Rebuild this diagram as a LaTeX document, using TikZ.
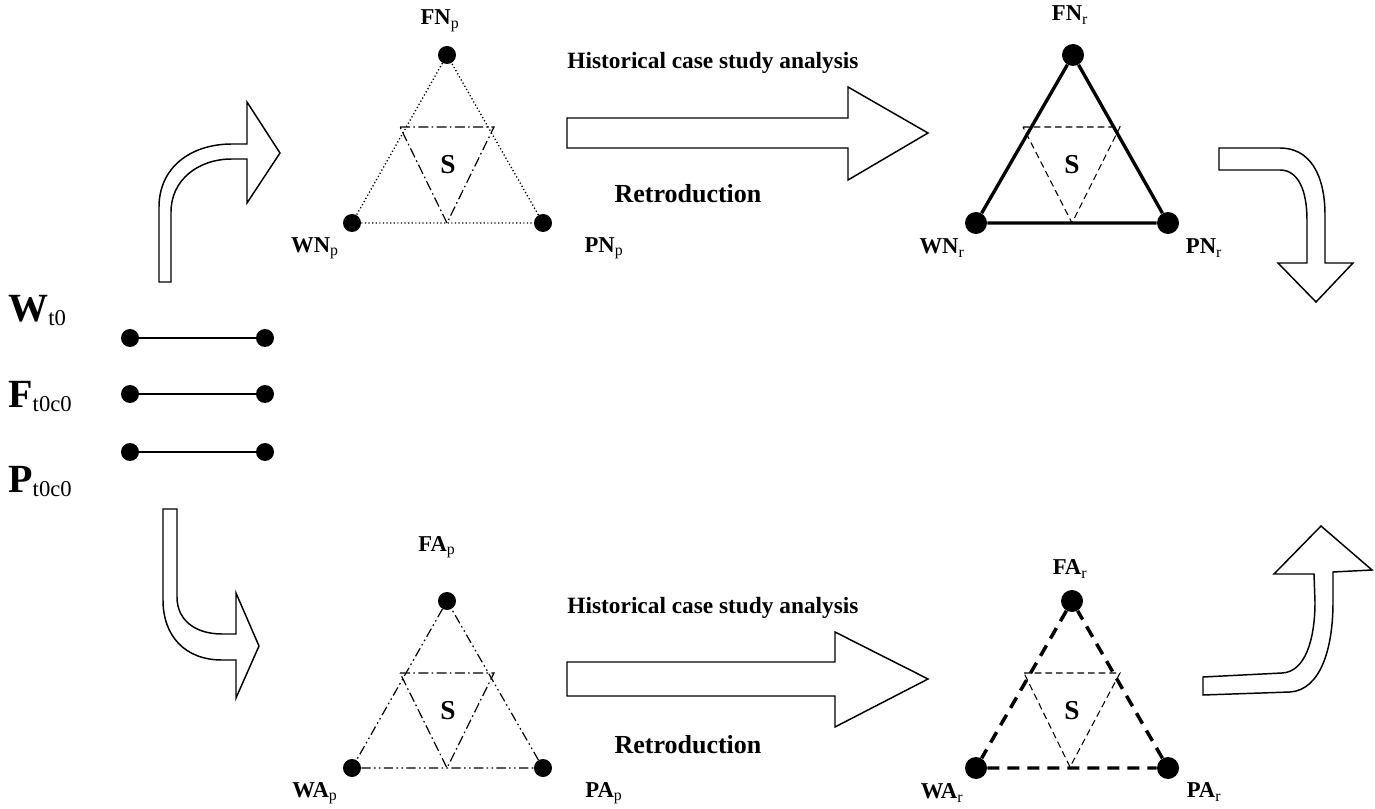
\documentclass[tikz,border=0pt]{standalone}
\usepackage{fontspec}
\setmainfont{Liberation Serif}
\newcommand\vtx[2]{\textbf{#1}\textsubscript{\mdseries #2}}
\newcommand\bigvar[2]{{\fontsize{30}{32}\selectfont\bfseries #1}\raisebox{-3pt}{\fontsize{17}{18}\selectfont #2}}
\begin{document}
\begin{tikzpicture}[x=0.75pt,y=-0.75pt,
  dotsm/.style={circle,fill=black,inner sep=0pt,minimum size=13.5pt},
  dotlg/.style={circle,fill=black,inner sep=0pt,minimum size=16.5pt},
  vlab/.style={font=\fontsize{17}{19}\selectfont, inner sep=0pt},
  slab/.style={font=\fontsize{20.5}{22}\selectfont\bfseries, inner sep=0pt},
  histlab/.style={font=\fontsize{17.5}{20}\selectfont\bfseries, inner sep=0pt},
  retrolab/.style={font=\fontsize{19.5}{22}\selectfont\bfseries, inner sep=0pt},
  bigarrow/.style={draw,line width=1.1pt,fill=white,line join=miter},
  dotline/.style={line width=1pt,dash pattern=on 0.9pt off 1.8pt},
  dashdotline/.style={line width=0.9pt,dash pattern=on 7.5pt off 2.5pt on 1.2pt off 2.5pt},
  dashdotdotline/.style={line width=0.9pt,dash pattern=on 7pt off 2.5pt on 1.2pt off 2.5pt on 1.2pt off 2.5pt},
  thinline/.style={line width=0.8pt,dash pattern=on 5pt off 3pt},
  boldline/.style={line width=2.5pt},
  bolddash/.style={line width=2.6pt,dash pattern=on 9pt off 6pt},
  bar/.style={line width=0.9pt}]
\useasboundingbox (0,0) rectangle (1375,809);

% ---------- initial state: three bars ----------
\node[anchor=base west,inner sep=0pt] (lw) at (8,322) {\bigvar{W}{t0}};
\node[anchor=base west,inner sep=0pt] (lf) at (8,407) {\bigvar{F}{t0c0}};
\node[anchor=base west,inner sep=0pt] (lp) at (8,492) {\bigvar{P}{t0c0}};
\node[dotsm] (w1) at (130,338) {};
\node[dotsm] (w2) at (265,338) {};
\node[dotsm] (f1) at (130,394) {};
\node[dotsm] (f2) at (265,394) {};
\node[dotsm] (p1) at (130,452) {};
\node[dotsm] (p2) at (265,452) {};
\draw[bar] (w1) -- (w2);
\draw[bar] (f1) -- (f2);
\draw[bar] (p1) -- (p2);

% ---------- bent arrows ----------
\draw[bigarrow] (159,282) -- (159,207) .. controls (159,168) and (190,144) .. (232,144)
  -- (247,144) -- (247,102) -- (280,153) -- (247,203) -- (247,159) -- (232,159)
  .. controls (198,159) and (171,180) .. (171,212) -- (171,282) -- cycle;
\draw[bigarrow] (163,509) -- (177,509) -- (177,597) .. controls (177,620) and (195,634) .. (222,634)
  -- (236,634) -- (236,593) -- (259,646) -- (236,698) -- (236,660) -- (222,660)
  .. controls (185,660) and (163,636) .. (163,600) -- cycle;
\draw[bigarrow] (1219,148) -- (1280,148) .. controls (1310,148) and (1325,175) .. (1325,215)
  -- (1325,263) -- (1353,263) -- (1316,302) -- (1278,263) -- (1307,263) -- (1307,220)
  .. controls (1307,190) and (1298,170) .. (1280,170) -- (1219,170) -- cycle;
\draw[bigarrow] (1203,677) -- (1282,673) .. controls (1305,672) and (1315,640) .. (1315,602)
  -- (1314,574) -- (1274,574) -- (1321,526) -- (1372,570) -- (1333,572) -- (1333,602)
  .. controls (1333,650) and (1320,690) .. (1290,692) -- (1203,695) -- cycle;

% ---------- straight arrows ----------
\draw[bigarrow] (567,118) -- (848,118) -- (848,87) -- (928,133) -- (848,180) -- (848,148) -- (567,148) -- cycle;
\draw[bigarrow] (567,662) -- (835,662) -- (835,632) -- (928,679) -- (835,727) -- (835,696) -- (567,696) -- cycle;
\node[histlab] (h1) at (713,63) {Historical case study analysis};
\node[retrolab] (r1) at (688,194) {Retroduction};
\node[histlab] (h2) at (713,608) {Historical case study analysis};
\node[retrolab] (r2) at (688,745) {Retroduction};

% ---------- N, p : dotted ----------
\node[dotsm] (fnp) at (447,55) {};
\node[dotsm] (wnp) at (352,223) {};
\node[dotsm] (pnp) at (543,223) {};
\draw[dotline] (fnp) -- (wnp) -- (pnp) -- (fnp);
\coordinate (a1) at (400,127);
\coordinate (a2) at (494,127);
\coordinate (a3) at (447,223);
\draw[dashdotline] (a1) -- (a2) -- (a3) -- cycle;
\node[slab] (s1) at (448,165) {S};
\node[vlab] (lfnp) at (440,21) {\vtx{FN}{p}};
\node[vlab] (lwnp) at (315,248) {\vtx{WN}{p}};
\node[vlab] (lpnp) at (604,248) {\vtx{PN}{p}};

% ---------- N, r : bold ----------
\node[dotlg] (fnr) at (1073,55) {};
\node[dotlg] (wnr) at (976,223) {};
\node[dotlg] (pnr) at (1168,223) {};
\draw[boldline] (fnr) -- (wnr) -- (pnr) -- (fnr);
\coordinate (b1) at (1023,127);
\coordinate (b2) at (1120,127);
\coordinate (b3) at (1072,223);
\draw[thinline] (b1) -- (b2) -- (b3) -- cycle;
\node[slab] (s2) at (1072,165) {S};
\node[vlab] (lfnr) at (1070,15) {\vtx{FN}{r}};
\node[vlab] (lwnr) at (942,248) {\vtx{WN}{r}};
\node[vlab] (lpnr) at (1204,248) {\vtx{PN}{r}};

% ---------- A, p : dash-dot ----------
\node[dotsm] (fap) at (447,601) {};
\node[dotsm] (wap) at (352,768) {};
\node[dotsm] (pap) at (543,768) {};
\draw[dashdotdotline] (fap) -- (wap) -- (pap) -- (fap);
\coordinate (c1) at (400,673);
\coordinate (c2) at (494,673);
\coordinate (c3) at (447,768);
\draw[dashdotline] (c1) -- (c2) -- (c3) -- cycle;
\node[slab] (s3) at (448,711) {S};
\node[vlab] (lfap) at (437,547) {\vtx{FA}{p}};
\node[vlab] (lwap) at (315,793) {\vtx{WA}{p}};
\node[vlab] (lpap) at (604,793) {\vtx{PA}{p}};

% ---------- A, r : bold dashed ----------
\node[dotlg] (far) at (1072,601) {};
\node[dotlg] (war) at (976,768) {};
\node[dotlg] (par) at (1168,768) {};
\draw[bolddash] (far) -- (war) -- (par) -- (far);
\coordinate (d1) at (1024,673);
\coordinate (d2) at (1120,673);
\coordinate (d3) at (1070,767);
\draw[thinline] (d1) -- (d2) -- (d3) -- cycle;
\node[slab] (s4) at (1072,711) {S};
\node[vlab] (lfar) at (1070,569) {\vtx{FA}{r}};
\node[vlab] (lwar) at (942,793) {\vtx{WA}{r}};
\node[vlab] (lpar) at (1204,792) {\vtx{PA}{r}};
\end{tikzpicture}
\end{document}
